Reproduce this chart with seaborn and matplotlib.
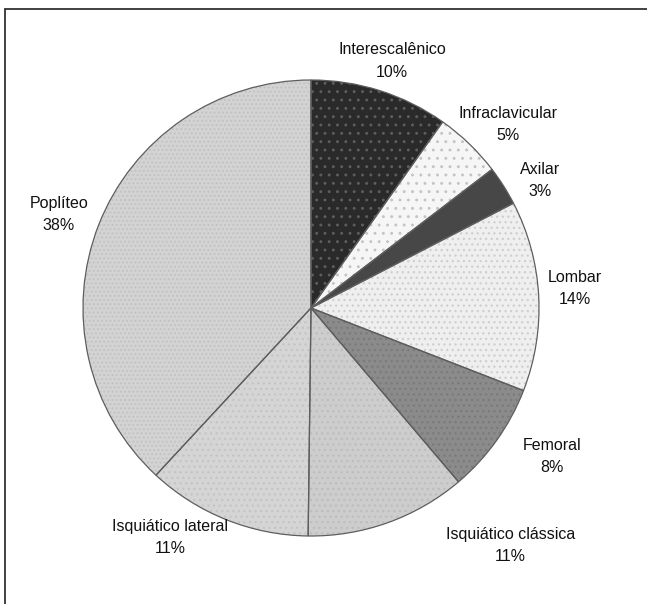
import numpy as np
import matplotlib
matplotlib.use("Agg")
import matplotlib.pyplot as plt
from matplotlib.lines import Line2D
import seaborn as sns

# ---- data ----
categories = ["Interescalênico", "Infraclavicular", "Axilar", "Lombar",
              "Femoral", "Isquiático clássica", "Isquiático lateral", "Poplíteo"]
# slice shares
shares = [9.8, 4.8, 2.8, 13.5, 7.9, 11.4, 11.7, 38.1]
# percentages printed on the labels
percent_labels = [10, 5, 3, 14, 8, 11, 11, 38]

# ---- styles ----
fill_colors = ["#2a2a2a", "#f6f6f6", "#474747", "#efefef",
               "#8b8b8b", "#cdcdcd", "#d5d5d5", "#d3d3d3"]
hatches = ["..", "..", "", "...", "...", "...", "...", "...."]
hatch_colors = ["#5e5e5e", "#c4c4c4", "#474747", "#cfcfcf",
                "#7a7a7a", "#bdbdbd", "#c4c4c4", "#c2c2c2"]
label_dist = [1.14, 1.18, 1.15, 1.16, 1.24, 1.36, 1.18, 1.18]
label_shift = [0.5, 3.1, 3.4, -1.2, -3.8, -20.2, 9.8, -1.0]

sns.set_theme(style="white")
plt.rcParams["font.family"] = ["Liberation Sans", "DejaVu Sans"]
plt.rcParams["hatch.linewidth"] = 0.9

W, H = 647, 604
fig = plt.figure(figsize=(W / 100, H / 100), dpi=100)
ax = fig.add_axes([0, 0, 1, 1])

cx, cy, rad = 311.0, 308.0, 228.0

wedges, _ = ax.pie(shares, startangle=90, counterclock=False,
                   colors=fill_colors,
                   wedgeprops=dict(edgecolor="none", linewidth=0))
# hatch overlay
hw, _ = ax.pie(shares, startangle=90, counterclock=False,
               colors=["none"] * len(shares),
               wedgeprops=dict(linewidth=0))
for w, h, hc in zip(hw, hatches, hatch_colors):
    w.set_facecolor("none")
    w.set_edgecolor(hc)
    w.set_hatch(h)
# outlines
ow, _ = ax.pie(shares, startangle=90, counterclock=False,
               colors=["none"] * len(shares),
               wedgeprops=dict(linewidth=0.9))
for w in ow:
    w.set_facecolor("none")
    w.set_edgecolor("#5e5e5e")

ax.set_xlim(-cx / rad, (W - cx) / rad)
ax.set_ylim(-(H - cy) / rad, cy / rad)
ax.set_aspect("auto")
ax.axis("off")

# labels
total = float(sum(shares))
cum = 0.0
for cat, v, lab, d, s in zip(categories, shares, percent_labels,
                             label_dist, label_shift):
    mid = (cum + v / 2.0) / total * 360.0
    cum += v
    ang = np.deg2rad(90.0 - (mid + s))
    ax.text(d * np.cos(ang), d * np.sin(ang), f"{cat}\n{lab}%",
            ha="center", va="center", fontsize=11.5, color="#111111",
            linespacing=1.6)

# frame lines (left and top)
lc = "#333333"
fig.add_artist(Line2D([4.5 / W, 4.5 / W], [0, 1 - 8.5 / H],
                      transform=fig.transFigure, color=lc, linewidth=1.3))
fig.add_artist(Line2D([4.5 / W, 1.0], [1 - 8.5 / H, 1 - 8.5 / H],
                      transform=fig.transFigure, color=lc, linewidth=1.3))

fig.savefig("out.png", dpi=100, facecolor="white")
